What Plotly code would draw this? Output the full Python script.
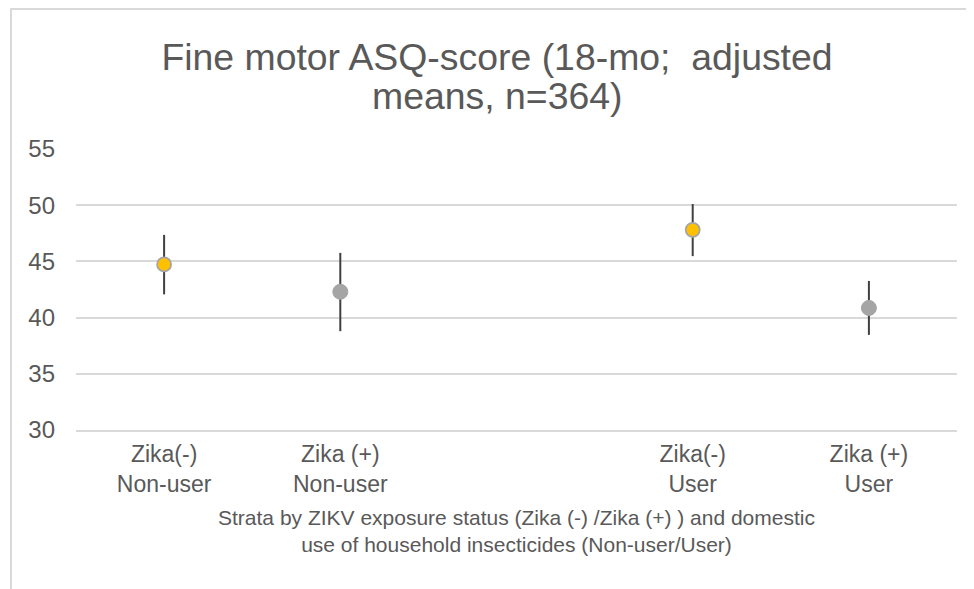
import plotly.graph_objects as go

# ---- data ----
categories = ["Zika(-)<br>Non-user", "Zika (+)<br>Non-user", " ", "Zika(-)<br>User", "Zika (+)<br>User"]
neg_cats = ["Zika(-)<br>Non-user", "Zika(-)<br>User"]
neg_means = [44.73, 47.81]
neg_lower = [42.07, 45.47]
neg_upper = [47.36, 50.10]
pos_cats = ["Zika (+)<br>Non-user", "Zika (+)<br>User"]
pos_means = [42.30, 40.86]
pos_lower = [38.79, 38.46]
pos_upper = [45.76, 43.26]
y_ticks = [30, 35, 40, 45, 50, 55]

title_line1 = "Fine motor ASQ-score (18-mo;  adjusted"
title_line2 = "means, n=364)"
x_title = ("Strata by ZIKV exposure status (Zika (-) /Zika (+) ) and domestic<br>"
           "use of household insecticides (Non-user/User)")

FONT = "Liberation Sans, Arial, sans-serif"
TXT = "#595959"

def plus(m, u):
    return [b - a for a, b in zip(m, u)]

def minus(m, l):
    return [a - b for a, b in zip(m, l)]

fig = go.Figure()
fig.add_trace(go.Scatter(
    x=neg_cats, y=neg_means, mode="markers",
    marker=dict(size=14, color="#FFC000", line=dict(color="#A5A5A5", width=1.8)),
    error_y=dict(type="data", symmetric=False, array=plus(neg_means, neg_upper),
                 arrayminus=minus(neg_means, neg_lower), color="#404040",
                 thickness=2, width=0),
    showlegend=False, cliponaxis=False,
))
fig.add_trace(go.Scatter(
    x=pos_cats, y=pos_means, mode="markers",
    marker=dict(size=15, color="#A5A5A5", line=dict(color="#A5A5A5", width=1)),
    error_y=dict(type="data", symmetric=False, array=plus(pos_means, pos_upper),
                 arrayminus=minus(pos_means, pos_lower), color="#404040",
                 thickness=2, width=0),
    showlegend=False, cliponaxis=False,
))

OFF = 8  # page body margin
W, H = 974 - OFF, 589 - OFF
L, T = 76 - OFF, 149 - OFF
R = W - (957 - OFF)
B = H - (430 - OFF)
pw, ph = W - L - R, H - T - B

def px_x(p):
    return (p - OFF - L) / pw

def px_y(p):
    return (H - B - (p - OFF)) / ph

fig.update_layout(
    width=W, height=H,
    margin=dict(l=L, r=R, t=T, b=B, pad=0),
    paper_bgcolor="white", plot_bgcolor="white",
    font=dict(family=FONT, color=TXT),
    title=dict(text=title_line1, x=(497 - OFF) / W, xanchor="center",
               y=1 - (57 - OFF) / H, yanchor="middle",
               font=dict(size=37.4, color=TXT, family=FONT)),
    xaxis=dict(type="category", categoryorder="array", categoryarray=categories,
               range=[-0.5, 4.5], showgrid=False, zeroline=False,
               showline=True, linecolor="#D9D9D9", linewidth=1.5,
               ticks="", tickfont=dict(size=23, color=TXT, family=FONT),
               ticklabelstandoff=3,
               title=dict(text=x_title, font=dict(size=21, color=TXT, family=FONT),
                          standoff=14)),
    yaxis=dict(range=[30, 55], tickvals=y_ticks, showgrid=True,
               gridcolor="#D9D9D9", gridwidth=1.5, zeroline=False,
               showline=False, ticks="", ticklabelstandoff=20,
               tickfont=dict(size=24, color=TXT, family=FONT)),
    annotations=[dict(text=title_line2, xref="paper", yref="paper",
                      x=px_x(497), y=px_y(96), xanchor="center", yanchor="middle",
                      showarrow=False, font=dict(size=37.4, color=TXT, family=FONT))],
    shapes=[dict(type="rect", xref="paper", yref="paper",
                 x0=px_x(11), x1=px_x(974 + 30), y0=px_y(589 + 30), y1=px_y(9),
                 line=dict(color="#D9D9D9", width=2), fillcolor="rgba(0,0,0,0)",
                 layer="below")],
)

fig.write_html("out.html")
